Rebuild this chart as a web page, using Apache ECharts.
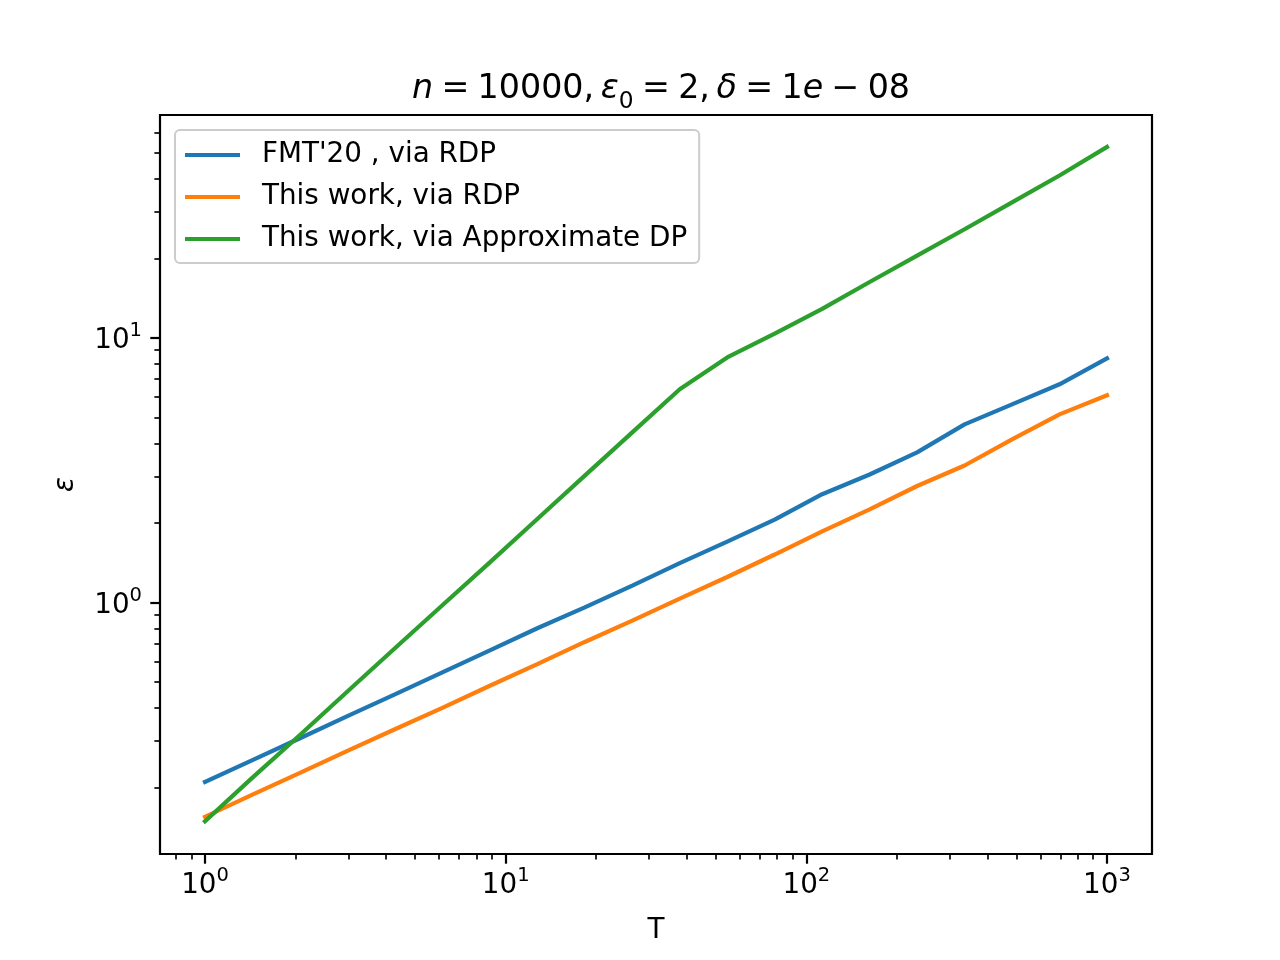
<!DOCTYPE html>
<html>
<head>
<meta charset="utf-8">
<script src="https://cdn.jsdelivr.net/npm/echarts@6/dist/echarts.min.js"></script>
<style>
  html, body { margin: 0; padding: 0; background: #fff; }
  #chart { width: 1280px; height: 960px; }
</style>
</head>
<body>
<div id="chart"></div>
<script>
const T = [1, 1.438, 2.069, 2.976, 4.281, 6.158, 8.859, 12.74, 18.33, 26.37,
  37.93, 54.56, 78.48, 112.9, 162.4, 233.6, 336.0, 483.3, 695.2, 1000];

const fmtRdp = [0.21, 0.254, 0.307, 0.372, 0.45, 0.545, 0.66, 0.80, 0.96, 1.16,
  1.41, 1.70, 2.06, 2.57, 3.05, 3.70, 4.72, 5.62, 6.69, 8.38];
const oursRdp = [0.155, 0.188, 0.227, 0.275, 0.332, 0.40, 0.485, 0.585, 0.71, 0.855,
  1.035, 1.25, 1.52, 1.86, 2.25, 2.76, 3.30, 4.14, 5.15, 6.08];
const oursApprox = [0.149, 0.218, 0.316, 0.461, 0.672, 0.977, 1.42, 2.07, 3.02, 4.40,
  6.41, 8.45, 10.4, 12.9, 16.3, 20.5, 25.8, 32.6, 41.2, 52.8];

const seriesNames = ["FMT'20 , via RDP", "This work, via RDP", "This work, via Approximate DP"];
const seriesColors = ['#1f77b4', '#ff7f0e', '#2ca02c'];

const xMajor = [1, 10, 100, 1000];
const xMinor = [0.8, 0.9, 2, 3, 4, 5, 6, 7, 8, 9, 20, 30, 40, 50, 60, 70, 80, 90,
  200, 300, 400, 500, 600, 700, 800, 900];
const yMajor = [1, 10];
const yMinor = [0.2, 0.3, 0.4, 0.5, 0.6, 0.7, 0.8, 0.9, 2, 3, 4, 5, 6, 7, 8, 9, 20, 30, 40, 50, 60];

const FONT = 'DejaVu Sans';
const xRange = [0.7084, 1411.6];
const yRange = [0.1121, 69.75];

const chart = echarts.init(document.getElementById('chart'), null, { renderer: 'canvas' });

function powLabel(v) {
  return '{b|10}{sup|' + Math.round(Math.log10(v)) + '}';
}
const labelRich = {
  b: { fontSize: 27.8, fontFamily: FONT, color: '#000', lineHeight: 34, verticalAlign: 'bottom' },
  sup: { fontSize: 19.5, fontFamily: FONT, color: '#000', lineHeight: 34, verticalAlign: 'top' }
};

function majorAxis(range, ticks, extra) {
  return Object.assign({
    type: 'log', logBase: 10, min: range[0], max: range[1],
    axisLine: { show: false },
    splitLine: { show: false },
    axisTick: { show: true, inside: false, length: 9.7, lineStyle: { color: '#000', width: 2.2 }, customValues: ticks },
    axisLabel: { customValues: ticks, formatter: powLabel, rich: labelRich }
  }, extra);
}
function minorAxis(range, ticks, extra) {
  return Object.assign({
    type: 'log', logBase: 10, min: range[0], max: range[1],
    axisLine: { show: false },
    splitLine: { show: false },
    axisLabel: { show: false },
    axisTick: { show: true, inside: false, length: 5.6, lineStyle: { color: '#000', width: 1.67 }, customValues: ticks }
  }, extra);
}

const yLists = [fmtRdp, oursRdp, oursApprox];

const titleBase = { fontSize: 33.3, fontFamily: FONT, fontWeight: 'normal', color: '#000', lineHeight: 40, verticalAlign: 'top' };
const sp = '\u2005';

chart.setOption({
  animation: false,
  backgroundColor: '#fff',
  title: {
    left: 656,
    textAlign: 'center',
    top: 68,
    text: '{i|n}{t|' + sp + '=' + sp + '10000,\u2009}{i|ε}{s|0}{t|' + sp + '=' + sp + '2,\u2009}{i|δ}{t|' +
      sp + '=' + sp + '1}{i|e}{t|' + sp + '−' + sp + '08}',
    textStyle: {
      fontWeight: 'normal',
      rich: {
        t: titleBase,
        i: Object.assign({}, titleBase, { fontStyle: 'italic' }),
        s: { fontSize: 23.3, fontFamily: FONT, fontWeight: 'normal', color: '#000', lineHeight: 40, verticalAlign: 'bottom' }
      }
    }
  },
  legend: {
    orient: 'vertical',
    left: 175,
    top: 130,
    padding: [11, 12, 10, 10],
    itemGap: 14,
    itemWidth: 55,
    itemHeight: 4.2,
    icon: 'rect',
    backgroundColor: 'rgba(255,255,255,0.8)',
    borderColor: '#cccccc',
    borderWidth: 2,
    borderRadius: 5,
    textStyle: { fontSize: 27.8, fontFamily: FONT, color: '#000', lineHeight: 28, padding: [0, 0, 0, 17] },
    data: seriesNames
  },
  grid: {
    left: 160, top: 115, width: 992, height: 739,
    show: true, borderColor: '#000', borderWidth: 2.2, backgroundColor: 'transparent'
  },
  xAxis: [
    majorAxis(xRange, xMajor, {
      position: 'bottom',
      name: 'T', nameLocation: 'middle', nameGap: 63,
      nameTextStyle: { fontSize: 27.8, fontFamily: FONT, color: '#000' },
      axisLabel: { customValues: xMajor, formatter: powLabel, rich: labelRich, margin: 12 }
    }),
    minorAxis(xRange, xMinor, { position: 'bottom' })
  ],
  yAxis: [
    majorAxis(yRange, yMajor, {
      position: 'left',
      name: 'ε', nameLocation: 'middle', nameGap: 80,
      nameTextStyle: { fontSize: 27.8, fontFamily: FONT, fontStyle: 'italic', color: '#000' },
      axisLabel: { customValues: yMajor, formatter: powLabel, rich: labelRich, margin: 18 }
    }),
    minorAxis(yRange, yMinor, { position: 'left' })
  ],
  series: seriesNames.map((name, k) => ({
    name: name,
    type: 'line',
    xAxisIndex: 0,
    yAxisIndex: 0,
    showSymbol: false,
    symbol: 'none',
    color: seriesColors[k],
    lineStyle: { width: 4.2, color: seriesColors[k], cap: 'square' },
    data: T.map((t, i) => [t, yLists[k][i]])
  }))
});
</script>
</body>
</html>
